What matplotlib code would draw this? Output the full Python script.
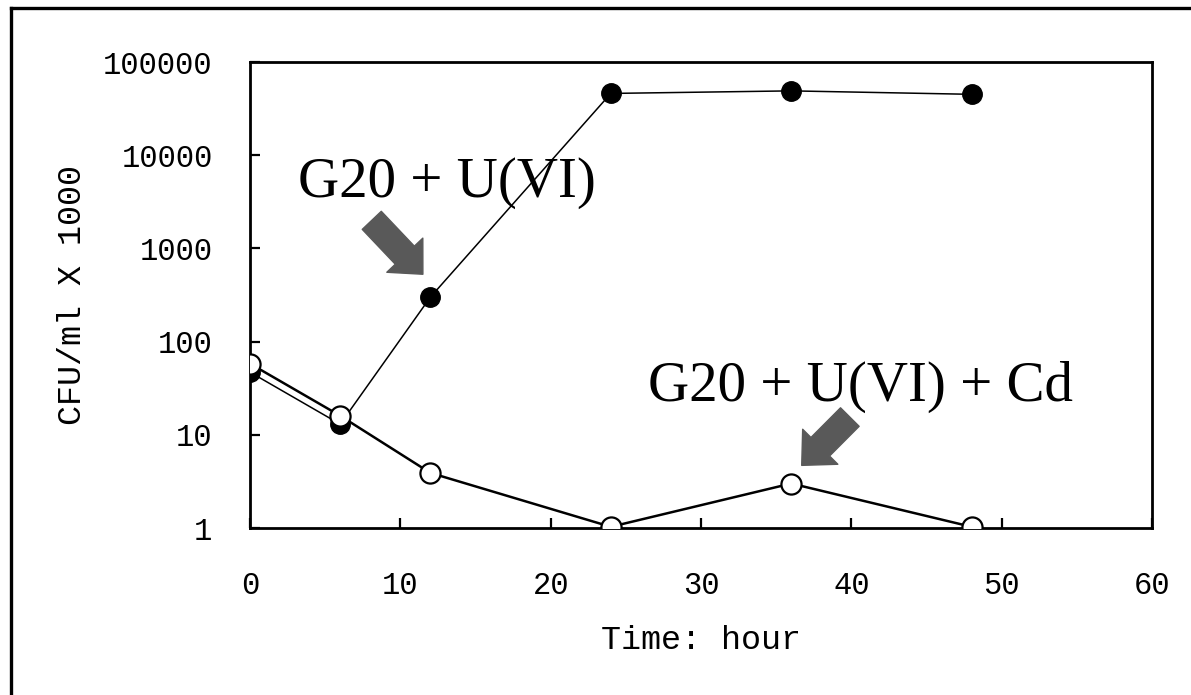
import matplotlib
matplotlib.use("Agg")
import matplotlib.pyplot as plt
from matplotlib.lines import Line2D

# Data
time_h = [0, 6, 12, 24, 36, 48]
g20_u = [47, 13, 300, 46000, 49000, 45000]          # filled circles
g20_u_cd = [58, 16, 3.9, 1.03, 3.0, 1.03]           # open circles
x_ticks = [0, 10, 20, 30, 40, 50, 60]
y_ticks = [1, 10, 100, 1000, 10000, 100000]
y_tick_labels = ["1", "10", "100", "1000", "10000", "100000"]
label_1 = "G20 + U(VI)"
label_2 = "G20 + U(VI) + Cd"

fig = plt.figure(figsize=(11.91, 6.95), dpi=100)
ax = fig.add_axes([250/1191, 1-528/695, (1152-250)/1191, (528-62)/695])

ax.plot(time_h, g20_u, color="black", lw=1.1, marker="o", ms=14,
        mfc="black", mec="black", zorder=3)
ax.plot(time_h, g20_u_cd, color="black", lw=1.8, marker="o", ms=14.5,
        mfc="white", mec="black", mew=1.6, zorder=4)

ax.set_yscale("log")
ax.set_xlim(0, 60)
ax.set_ylim(1, 100000)
ax.set_xticks(x_ticks)
ax.set_xticklabels([str(v) for v in x_ticks])
ax.set_yticks(y_ticks)
ax.set_yticklabels(y_tick_labels)
ax.minorticks_off()

mono = "Liberation Mono"
for lab in ax.get_xticklabels() + ax.get_yticklabels():
    lab.set_fontfamily(mono)
    lab.set_fontsize(22)
ax.tick_params(axis="both", direction="in", length=7, width=1.6)
ax.tick_params(axis="y", pad=27)
ax.tick_params(axis="x", pad=31)
for sp in ax.spines.values():
    sp.set_linewidth(2.0)

ax.set_xlabel("Time: hour", fontfamily=mono, fontsize=24, labelpad=17)
ax.set_ylabel("CFU/ml X 1000", fontfamily=mono, fontsize=24, labelpad=11)

serif = "Liberation Serif"
ax.text(13.1, 5000, label_1, fontfamily=serif, fontsize=41,
        ha="center", va="center", zorder=5)
ax.text(40.6, 33, label_2, fontfamily=serif, fontsize=41,
        ha="center", va="center", zorder=5)

arrow_style = "simple,head_length=0.9,head_width=1.7,tail_width=0.9"
ax.annotate("", xy=(11.5, 528), xytext=(8.1, 2000),
            arrowprops=dict(arrowstyle=arrow_style, color="#595959",
                            mutation_scale=21, shrinkA=0, shrinkB=0))
ax.annotate("", xy=(36.7, 4.7), xytext=(39.9, 15.5),
            arrowprops=dict(arrowstyle=arrow_style, color="#595959",
                            mutation_scale=21, shrinkA=0, shrinkB=0))

# outer frame (top and left edges visible)
fig.add_artist(Line2D([11/1191, 1.0], [1-8/695, 1-8/695], color="black",
                      lw=2.4, transform=fig.transFigure))
fig.add_artist(Line2D([11/1191, 11/1191], [0.0, 1-8/695], color="black",
                      lw=2.4, transform=fig.transFigure))

fig.savefig("out.png", dpi=100)
